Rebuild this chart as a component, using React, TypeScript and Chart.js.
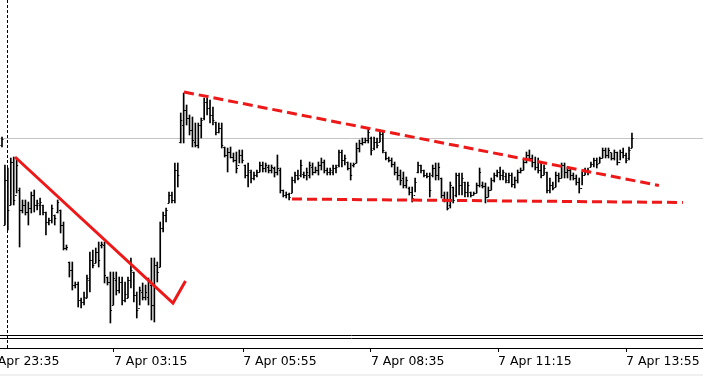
import React, { useEffect, useRef } from "react";
import { Chart, registerables } from "chart.js";

Chart.register(...registerables);

// OHLC of each 5-minute bar (price units)
const high = [263,235,232,242,243,242,212,200,200,198,208,210,200,202,195,188,182,195,185,200,190,178,155,138,138,118,118,102,108,125,148,150,152,158,158,158,123,128,128,128,123,123,118,123,142,128,108,113,117,115,122,142,142,138,178,188,192,208,208,237,237,287,307,295,285,283,277,277,282,302,302,300,293,278,277,277,253,252,253,247,248,250,250,235,237,230,228,230,238,238,237,235,235,233,245,232,210,208,207,223,228,230,240,228,232,238,237,233,238,242,240,232,232,235,235,250,250,245,238,237,237,257,260,262,262,272,263,263,262,270,268,248,243,242,238,233,230,228,223,213,213,222,238,235,230,227,227,235,237,237,222,208,208,218,213,227,227,227,218,218,208,208,217,232,218,217,213,222,227,230,233,230,227,227,227,223,230,232,240,248,250,245,243,242,238,235,228,222,218,228,227,237,237,233,232,227,225,222,228,232,232,238,242,242,243,252,252,252,247,250,248,250,252,247,253,267];
const low = [253,175,170,195,195,207,153,187,185,175,187,188,190,185,185,165,175,177,175,187,167,150,150,123,110,112,93,92,95,102,108,132,137,133,152,117,115,77,95,105,107,95,98,102,112,98,82,95,100,100,95,80,78,118,133,168,178,197,197,197,213,257,257,275,265,253,253,252,262,280,285,277,275,265,267,252,243,228,242,238,227,237,237,222,213,217,220,223,228,228,228,227,227,223,225,207,203,202,200,207,217,220,223,222,220,222,225,227,225,230,227,225,225,225,227,233,233,235,230,220,233,237,248,255,257,257,245,250,252,258,247,240,238,233,225,220,215,212,212,205,198,208,227,227,223,222,203,223,220,220,202,198,190,192,197,203,205,205,203,203,203,205,207,213,212,197,203,210,218,223,220,220,217,217,213,212,217,227,230,237,240,233,230,227,222,225,207,207,210,213,218,222,222,222,220,220,215,207,215,225,225,233,233,232,237,242,242,242,240,240,235,240,242,237,240,252];
const open = [255,175,220,195,238,205,210,190,195,188,192,205,195,195,195,188,178,180,185,188,190,175,152,138,130,115,116,100,98,102,120,140,137,148,155,155,123,118,95,120,110,118,100,102,120,128,105,92,108,103,103,115,95,135,133,172,185,197,205,200,230,258,275,290,282,270,258,255,275,282,298,292,285,278,268,272,253,245,248,243,240,235,245,235,225,228,222,225,228,235,232,233,230,232,228,230,210,205,206,207,220,225,225,226,225,225,233,228,230,235,238,230,228,228,232,235,248,240,238,232,235,237,252,257,258,260,262,252,258,258,266,248,242,240,236,228,225,222,215,212,208,205,228,235,230,225,224,225,232,225,222,205,200,195,213,205,225,215,218,208,208,205,207,215,215,214,203,210,220,225,228,225,224,218,225,216,220,228,230,238,245,242,238,233,230,225,228,210,215,213,225,222,235,228,230,225,222,218,212,225,230,233,236,240,237,242,250,245,248,242,248,238,248,245,242,252];
const close = [261,220,190,238,200,235,190,195,188,192,205,195,197,198,188,178,180,192,182,198,175,152,153,130,115,116,100,98,103,122,140,135,148,140,156,125,118,90,122,110,118,100,106,120,130,105,90,110,103,108,118,95,135,128,172,185,190,205,200,230,225,280,290,282,270,260,255,275,280,298,292,285,280,268,272,255,245,248,243,240,232,245,240,225,230,222,225,228,235,232,235,230,233,228,232,210,205,206,203,220,225,222,235,225,228,235,228,230,235,238,230,228,230,232,233,248,240,242,232,225,236,252,257,258,260,268,250,258,255,266,250,242,240,236,228,225,220,215,220,208,202,218,235,230,225,224,210,232,225,233,205,200,192,215,200,225,215,222,208,215,205,207,215,228,214,203,210,220,225,228,225,228,220,225,216,220,228,230,238,245,242,238,233,230,225,232,210,215,212,225,222,235,228,230,225,222,218,212,225,230,228,236,240,236,242,250,245,250,242,248,238,248,245,240,250,262];

// time-axis labels and the bar position each one marks
const tickLabels = ["6 Apr 23:35", "7 Apr 03:15", "7 Apr 05:55", "7 Apr 08:35", "7 Apr 11:15", "7 Apr 13:55"];
const tickBars = [-5.5, 38.2, 82.3, 125.9, 169.3, 213];

// drawn objects
const downTrend = [{ x: 4.44, y: 243 }, { x: 58.36, y: 97 }, { x: 62.63, y: 119 }];
const upperTriangle = [{ x: 62.12, y: 308 }, { x: 224.2, y: 214.5 }];
const lowerTriangle = [{ x: 98.98, y: 201 }, { x: 232.4, y: 197.5 }];
const daySeparatorBar = 1.54;
const currentPrice = 262;

const RED = "rgb(238,24,24)";

export default function App() {
  const ref = useRef<HTMLCanvasElement | null>(null);

  useEffect(() => {
    if (!ref.current) return;
    const wicks = high.map((h, i) => ({ x: i, y: [low[i], h] }));
    const BAR_INDEX = 3;

    const decor = {
      id: "decor",
      beforeDatasetsDraw(chart: any) {
        const { ctx, chartArea, scales } = chart;
        const xs = scales.x;
        const ys = scales.y;
        ctx.save();
        const py = Math.round(ys.getPixelForValue(currentPrice)) + 0.5;
        ctx.strokeStyle = "#c4c4c4";
        ctx.lineWidth = 1;
        ctx.beginPath();
        ctx.moveTo(0, py);
        ctx.lineTo(chart.width, py);
        ctx.stroke();
        ctx.strokeStyle = "#000";
        [13, 10].forEach((d) => {
          const y = Math.round(chartArea.bottom - d) + 0.5;
          ctx.beginPath();
          ctx.moveTo(0, y);
          ctx.lineTo(chart.width, y);
          ctx.stroke();
        });
        const sx = Math.round(xs.getPixelForValue(daySeparatorBar)) + 0.5;
        ctx.setLineDash([3, 2]);
        ctx.beginPath();
        ctx.moveTo(sx, chartArea.top);
        ctx.lineTo(sx, chartArea.bottom);
        ctx.stroke();
        ctx.restore();
      },
      afterDatasetDraw(chart: any, args: any) {
        if (args.index !== BAR_INDEX) return;
        const { ctx, scales } = chart;
        const xs = scales.x;
        const ys = scales.y;
        ctx.save();
        ctx.strokeStyle = "#000";
        ctx.lineWidth = 1;
        ctx.beginPath();
        for (let i = 0; i < open.length; i++) {
          const x = xs.getPixelForValue(i);
          const yo = Math.round(ys.getPixelForValue(open[i])) + 0.5;
          const yc = Math.round(ys.getPixelForValue(close[i])) + 0.5;
          ctx.moveTo(x - 1.5, yo);
          ctx.lineTo(x, yo);
          ctx.moveTo(x, yc);
          ctx.lineTo(x + 1.5, yc);
        }
        ctx.stroke();
        ctx.restore();
      },
    };

    const chart = new Chart(ref.current, {
      type: "bar",
      data: {
        datasets: [
          { type: "line", data: downTrend, borderColor: RED, borderWidth: 3, pointRadius: 0, fill: false } as any,
          { type: "line", data: upperTriangle, borderColor: RED, borderWidth: 3, borderDash: [10, 5], pointRadius: 0, fill: false } as any,
          { type: "line", data: lowerTriangle, borderColor: RED, borderWidth: 3, borderDash: [10, 5], pointRadius: 0, fill: false } as any,
          { type: "bar", data: wicks as any, backgroundColor: "#000", borderWidth: 0, barThickness: 1, grouped: false } as any,
        ],
      },
      options: {
        animation: false,
        responsive: false,
        maintainAspectRatio: false,
        devicePixelRatio: 1,
        layout: { padding: 0 },
        plugins: { legend: { display: false }, tooltip: { enabled: false }, title: { display: false } },
        scales: {
          x: {
            type: "linear",
            offset: false,
            min: -2 / 2.93,
            max: -2 / 2.93 + 703 / 2.93,
            grid: { display: true, drawOnChartArea: false, drawTicks: true, tickLength: 4, color: "#000", offset: false },
            border: { display: true, color: "#000", width: 1 },
            afterBuildTicks: (scale: any) => {
              scale.ticks = tickBars.map((v) => ({ value: v }));
            },
            afterFit: (scale: any) => {
              scale.height = 28;
              scale.paddingLeft = 0;
              scale.paddingRight = 0;
            },
            ticks: {
              autoSkip: false,
              maxRotation: 0,
              minRotation: 0,
              align: "start",
              padding: 2,
              color: "#000",
              font: { family: "DejaVu Sans", size: 12.5 },
              callback: (_v: any, idx: number) => tickLabels[idx],
            },
          },
          y: { type: "linear", display: false, min: 52, max: 400 },
        },
      },
      plugins: [decor],
    });
    return () => chart.destroy();
  }, []);

  return (
    <div
      style={{
        position: "fixed",
        left: 0,
        top: 0,
        width: 703,
        height: 376,
        background: "linear-gradient(to bottom, #ffffff 374px, #f0f0f0 374px)",
      }}
    >
      <canvas ref={ref} width={703} height={376} style={{ display: "block" }} />
    </div>
  );
}
